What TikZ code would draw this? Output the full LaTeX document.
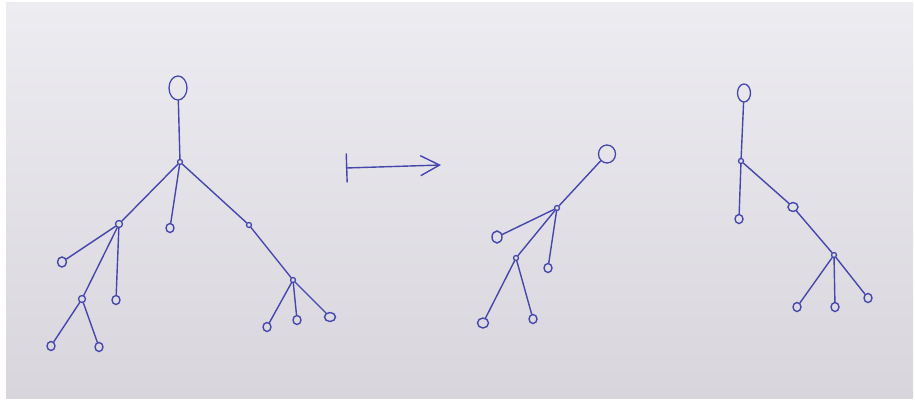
\documentclass[tikz,border=0pt]{standalone}
\usetikzlibrary{shapes.geometric,arrows.meta}
\definecolor{encre}{RGB}{70,70,175}
\definecolor{papierhaut}{RGB}{237,236,241}
\definecolor{papierbas}{RGB}{216,214,220}
\begin{document}
\begin{tikzpicture}[x=1pt, y=-1pt,
  tete/.style={draw=encre, ellipse, line width=1.3pt, inner sep=0pt},
  noeud/.style={draw=encre, circle, line width=1.3pt, minimum size=5pt, inner sep=0pt},
  feuille/.style={draw=encre, ellipse, line width=1.4pt, minimum width=8pt, minimum height=9pt, inner sep=0pt},
  arete/.style={encre, line width=1.4pt, line cap=round}]
  % Feuille de papier
  \fill[white] (0,0) rectangle (915,404);
  \shade[top color=papierhaut, bottom color=papierbas] (6,3) rectangle (913,398);
  \useasboundingbox (0,0) rectangle (915,404);
  % Arbre de d\'epart
  \node[tete, minimum width=18pt, minimum height=24pt] (r1) at (178,88) {};
  \node[noeud] (a) at (180,162) {};
  \node[noeud, minimum size=7pt] (b) at (119,224) {};
  \node[feuille] (a2) at (170,228) {};
  \node[noeud] (c) at (249,225) {};
  \node[feuille, minimum width=9pt, minimum height=10pt] (b1) at (62,262) {};
  \node[noeud, minimum size=7pt] (d) at (82,299) {};
  \node[feuille] (b3) at (116,300) {};
  \node[feuille] (d1) at (51,346) {};
  \node[feuille] (d2) at (99,347) {};
  \node[noeud] (e) at (293,280) {};
  \node[feuille] (e1) at (267,327) {};
  \node[feuille] (e2) at (297,320) {};
  \node[feuille, minimum width=11pt] (e3) at (330,317) {};
  \draw[arete] (r1) -- (a);
  \draw[arete] (a) -- (b);
  \draw[arete] (a) -- (a2);
  \draw[arete] (a) -- (c);
  \draw[arete] (b) -- (b1);
  \draw[arete] (b) -- (d);
  \draw[arete] (b) -- (b3);
  \draw[arete] (d) -- (d1);
  \draw[arete] (d) -- (d2);
  \draw[arete] (c) -- (e);
  \draw[arete] (e) -- (e1);
  \draw[arete] (e) -- (e2);
  \draw[arete] (e) -- (e3);
  % Fl\`eche
  \coordinate (fdep) at (346,168);
  \coordinate (farr) at (441,165);
  \draw[arete, {Bar[width=29pt]}-{Straight Barb[length=19pt, width=20pt]}] (fdep) -- (farr);
  % Premier morceau
  \node[tete, minimum width=17pt, minimum height=18pt] (r2) at (607,154) {};
  \node[noeud] (f) at (557,208) {};
  \node[feuille, minimum width=10pt, minimum height=12pt] (f1) at (497,237) {};
  \node[noeud] (g) at (516,258) {};
  \node[feuille] (f3) at (548,268) {};
  \node[feuille, minimum width=11pt, minimum height=10pt] (g1) at (483,323) {};
  \node[feuille] (g2) at (533,319) {};
  \draw[arete] (r2) -- (f);
  \draw[arete] (f) -- (f1);
  \draw[arete] (f) -- (g);
  \draw[arete] (f) -- (f3);
  \draw[arete] (g) -- (g1);
  \draw[arete] (g) -- (g2);
  % Second morceau
  \node[tete, minimum width=13pt, minimum height=18pt] (r3) at (744,93) {};
  \node[noeud] (h) at (741,161) {};
  \node[feuille] (h1) at (739,219) {};
  \node[feuille, minimum width=10pt, minimum height=9pt] (i) at (793,207) {};
  \node[noeud] (j) at (834,255) {};
  \node[feuille] (j1) at (797,307) {};
  \node[feuille] (j2) at (835,307) {};
  \node[feuille] (j3) at (868,298) {};
  \draw[arete] (r3) -- (h);
  \draw[arete] (h) -- (h1);
  \draw[arete] (h) -- (i);
  \draw[arete] (i) -- (j);
  \draw[arete] (j) -- (j1);
  \draw[arete] (j) -- (j2);
  \draw[arete] (j) -- (j3);
\end{tikzpicture}
\end{document}
